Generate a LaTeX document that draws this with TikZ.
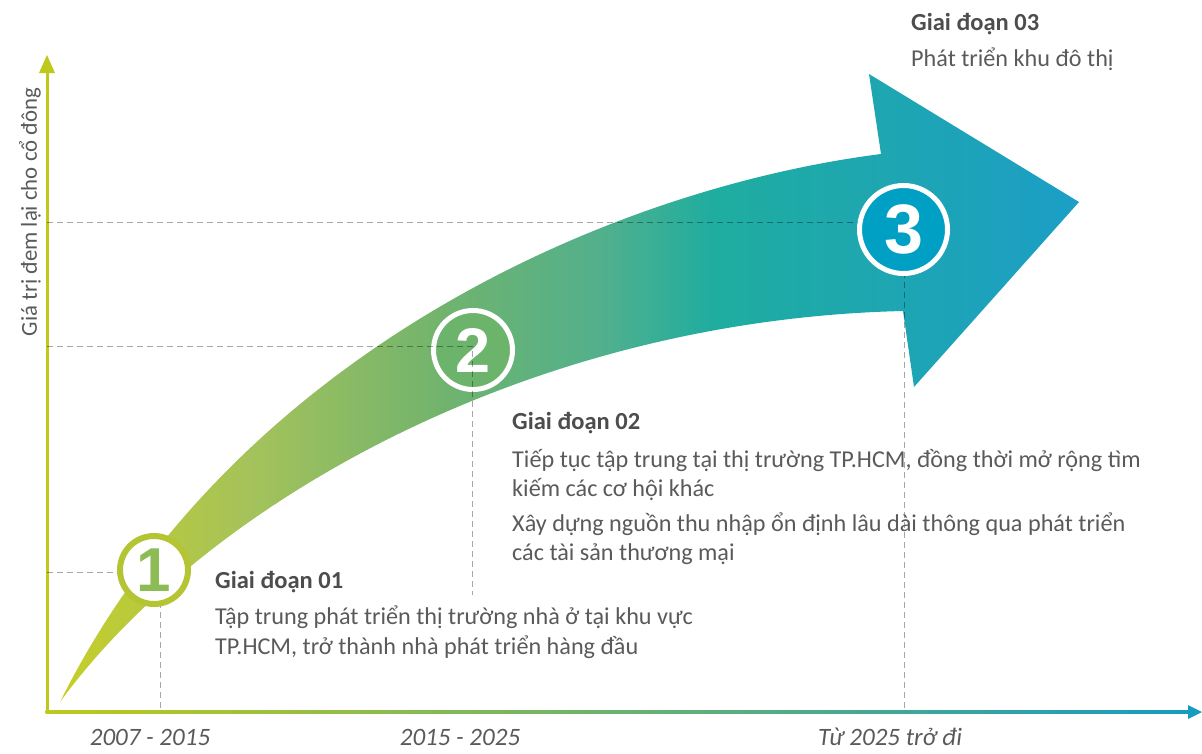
\documentclass[tikz,border=0pt]{standalone}
\usepackage{fontspec}
\setmainfont{Carlito}
\newfontfamily\numfont{Liberation Sans}
\usetikzlibrary{calc}

\definecolor{axisyg}{HTML}{BEC91C}
\definecolor{axismid}{HTML}{7DB57A}
\definecolor{axisblue}{HTML}{179BC2}
\definecolor{ag1}{HTML}{C6CE28}
\definecolor{ag2}{HTML}{A6C35A}
\definecolor{ag3}{HTML}{70B36E}
\definecolor{ag4}{HTML}{52B08C}
\definecolor{ag5}{HTML}{1FAD9F}
\definecolor{ag6}{HTML}{1C9EC6}
\definecolor{ring1}{HTML}{B4C432}
\definecolor{num1}{HTML}{8DBB55}
\definecolor{fill2}{HTML}{6CB36B}
\definecolor{fill3}{HTML}{00A0C4}
\definecolor{textgray}{HTML}{5A5A5A}
\definecolor{headgray}{HTML}{4D4D4D}

\pgfdeclarehorizontalshading{arrowshade}{100bp}{color(0bp)=(ag1); color(25bp)=(ag1);
  color(34bp)=(ag2); color(44bp)=(ag3); color(51.5bp)=(ag4); color(57bp)=(ag5);
  color(75bp)=(ag6); color(100bp)=(ag6)}

\begin{document}
\begin{tikzpicture}[x=1pt, y=-1pt,
    txt/.style={anchor=base west, inner sep=0pt, text=textgray,
                font=\fontsize{24.2}{29}\selectfont},
    stagehead/.style={txt, text=headgray, font=\fontsize{24.5}{29}\selectfont\bfseries},
    yearlbl/.style={anchor=base, inner sep=0pt, text=textgray,
                    font=\fontsize{25}{30}\selectfont\itshape},
    guide/.style={draw=black, draw opacity=0.35, line width=1pt, dash pattern=on 6pt off 4pt},
    stage/.style={circle, inner sep=0pt, font=\fontsize{#1}{#1}\selectfont\numfont\bfseries}]
 \useasboundingbox (0,0) rectangle (1202,753);

 % axes
 \coordinate (O) at (47,712);
 \coordinate (ytop) at (47,55);
 \coordinate (xend) at (1202,712);
 \shade[left color=axisyg, middle color=axismid, right color=axisblue]
   ([xshift=-1.5pt, yshift=1.5pt]O) rectangle ([xshift=-12pt, yshift=-1.5pt]xend);
 \fill[axisblue] (xend) -- ++(-14,-7) -- ++(0,14) -- cycle;
 \draw[axisyg, line width=3pt] (O) -- ([yshift=-16pt]ytop);
 \fill[axisyg] (ytop) -- ++(-8,18) -- ++(16,0) -- cycle;
 \node[rotate=90, inner sep=0pt, text=textgray, font=\fontsize{22.8}{26}\selectfont]
   (ylbl) at (30,212) {Giá trị đem lại cho cổ đông};

 % big arrow
 \shade[shading=arrowshade] (60,702) .. controls (230,360) and (600,190) .. (881,154)
   -- (869,74) -- (1079,202) -- (914,387) -- (903,311)
   .. controls (520,320) and (200,510) .. (60,702) -- cycle;

 % guides
 \coordinate (t1) at (160,712);
 \coordinate (t2) at (472,712);
 \coordinate (t3) at (904,712);
 \draw[guide] (O |- 0,572) -- (154,572) (t1 |- 0,572) -- (t1);
 \draw[guide] (O |- 0,222) -- (904,222) (t3 |- 0,222) -- (t3);

 % stages
 \node[stage=62, draw=ring1, line width=6pt, fill=white, text=num1, minimum size=68pt]
   (s1) at (154,570) {1};
 \node[stage=70, draw=white, line width=5pt, fill=fill3, text=white, minimum size=88pt]
   (s3) at (903.5,229.5) {3};
 \node[stage=63, draw=white, line width=5pt, fill=fill2, text=white, minimum size=79pt]
   (s2) at (473,350) {2};
 \draw[guide] (O |- 0,346) -- (472,346) -- (472,595);

 % texts
 \node[stagehead] (g1) at (215,588) {Giai đoạn 01};
 \node[txt] (g1a) at (215,624) {Tập trung phát triển thị trường nhà ở tại khu vực};
 \node[txt] (g1b) at (215,654) {TP.HCM, trở thành nhà phát triển hàng đầu};
 \node[stagehead] (g2) at (512,429) {Giai đoạn 02};
 \node[txt] (g2a) at (512,467) {Tiếp tục tập trung tại thị trường TP.HCM, đồng thời mở rộng tìm};
 \node[txt] (g2b) at (512,496) {kiếm các cơ hội khác};
 \node[txt] (g2c) at (512,531) {Xây dựng nguồn thu nhập ổn định lâu dài thông qua phát triển};
 \node[txt] (g2d) at (512,560) {các tài sản thương mại};
 \node[stagehead] (g3) at (911,30) {Giai đoạn 03};
 \node[txt] (g3a) at (911,66) {Phát triển khu đô thị};

 \node[yearlbl] (y1) at (150,745) {2007 - 2015};
 \node[yearlbl] (y2) at (460,745) {2015 - 2025};
 \node[yearlbl] (y3) at (890,745) {Từ 2025 trở đi};
\end{tikzpicture}
\end{document}
